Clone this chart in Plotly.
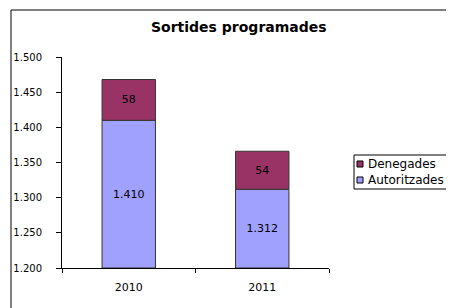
import plotly.graph_objects as go

years = ["2010", "2011"]
autoritzades = [1410, 1312]
denegades = [58, 54]
series_names = ["Autoritzades", "Denegades"]
series_colors = ["#A0A0FF", "#993366"]
title_text = "Sortides programades"
y_min, y_max, y_step = 1200, 1500, 50

OFF = 8  # page body margin in the browser
W, H = 454 - OFF, 308 - OFF
L, R, T, B = 62 - OFF, 329 - OFF, 57 - OFF, 268 - OFF
pw, ph = R - L, B - T

def px(x):
    return (x - OFF - L) / pw

def py(y):
    return 1 - (y - OFF - T) / ph

fam = "DejaVu Sans, Verdana, sans-serif"
font = dict(family=fam, size=10, color="black")
line = dict(color="#333333", width=1)

fig = go.Figure()
# lower segment drawn from the visible axis floor so its label sits in the visible part
fig.add_trace(go.Bar(
    x=years, y=[v - y_min for v in autoritzades], base=y_min,
    name=series_names[0], customdata=autoritzades,
    marker=dict(color=series_colors[0], line=line),
    texttemplate="%{customdata:,d}", textposition="inside", insidetextanchor="middle",
    textangle=0, textfont=dict(family=fam, size=11, color="black"),
))
fig.add_trace(go.Bar(
    x=years, y=denegades, base=autoritzades,
    name=series_names[1], customdata=denegades,
    marker=dict(color=series_colors[1], line=line),
    texttemplate="%{customdata:,d}", textposition="inside", insidetextanchor="middle",
    textangle=0, textfont=dict(family=fam, size=11, color="black"),
))

# legend (Excel-style, compact)
leg_x0, leg_y0, leg_x1, leg_y1 = 354, 155, 480, 189
shapes = [
    dict(type="rect", xref="paper", yref="paper",
         x0=px(11), y0=py(330), x1=px(490), y1=py(10),
         line=dict(color="black", width=1), layer="below"),
    dict(type="rect", xref="paper", yref="paper",
         x0=px(leg_x0), y0=py(leg_y1), x1=px(leg_x1), y1=py(leg_y0),
         line=dict(color="black", width=1), fillcolor="white"),
]
annotations = [dict(
    text="<b>" + title_text + "</b>", xref="paper", yref="paper",
    x=px(239), y=py(27), xanchor="center", yanchor="middle",
    showarrow=False, font=dict(family=fam, size=14, color="black"),
)]
legend_order = [1, 0]
for i, idx in enumerate(legend_order):
    cy = 164 + i * 16
    shapes.append(dict(type="rect", xref="paper", yref="paper",
                       x0=px(357), x1=px(363), y0=py(cy + 3), y1=py(cy - 3),
                       fillcolor=series_colors[idx], line=dict(color="black", width=1)))
    annotations.append(dict(text=series_names[idx], xref="paper", yref="paper",
                            x=px(366), y=py(cy), xanchor="left", yanchor="middle",
                            showarrow=False, font=dict(family=fam, size=12, color="black")))

fig.update_layout(
    width=W, height=H,
    margin=dict(l=L, r=W - R, t=T, b=H - B, pad=0, autoexpand=False),
    barmode="overlay", bargap=0.6,
    separators=",.",
    paper_bgcolor="white", plot_bgcolor="white",
    font=font,
    showlegend=False,
    annotations=annotations,
    shapes=shapes,
)
fig.update_xaxes(
    showline=True, linecolor="black", linewidth=1,
    ticks="outside", ticklen=4, tickcolor="black", tickson="boundaries",
    showgrid=False, tickfont=dict(family=fam, size=11), ticklabelstandoff=9,
)
fig.update_yaxes(
    range=[y_min, y_max], dtick=y_step, tickformat=",d",
    showline=True, linecolor="black", linewidth=1,
    ticks="outside", ticklen=5, tickcolor="black",
    showgrid=False, zeroline=False, tickfont=dict(family=fam, size=10),
    ticklabelstandoff=12,
)

fig.write_html("out.html")
